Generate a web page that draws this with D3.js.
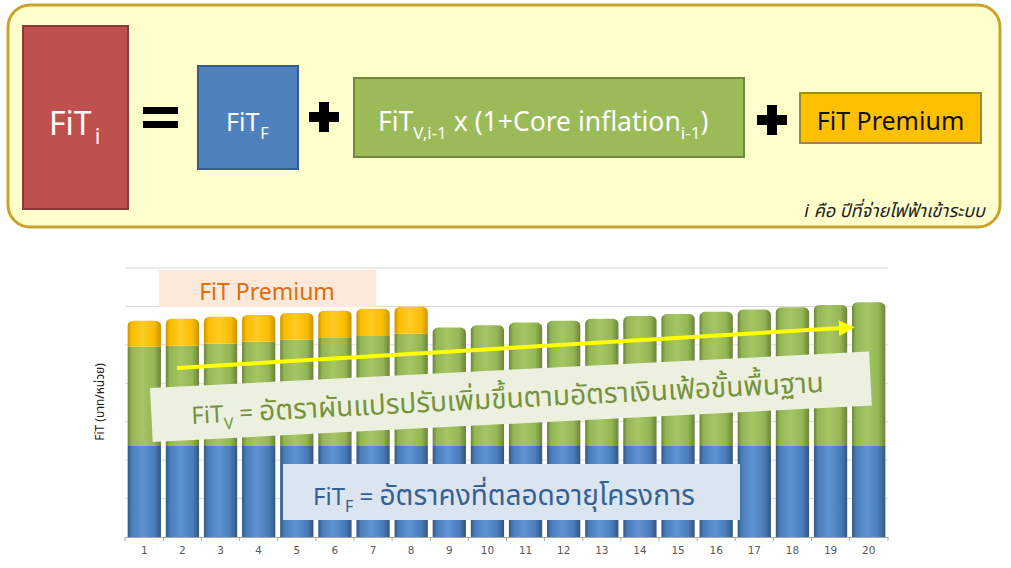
<!DOCTYPE html>
<html><head><meta charset="utf-8">
<script src="https://cdn.jsdelivr.net/npm/d3@7/dist/d3.min.js"></script>
<style>
body{margin:0;background:#fff;}
svg{display:block;font-family:"Noto Sans","Noto Sans Thai",Tahoma,sans-serif;}
</style></head>
<body>
<svg id="c" width="1011" height="568"></svg>
<script>
// ---------- data ----------
const categories = ["1","2","3","4","5","6","7","8","9","10","11","12","13","14","15","16","17","18","19","20"];
const fitF = [2.37,2.37,2.37,2.37,2.37,2.37,2.37,2.37,2.37,2.37,2.37,2.37,2.37,2.37,2.37,2.37,2.37,2.37,2.37,2.37];
const fitV = [2.58,2.61,2.66,2.71,2.76,2.81,2.86,2.92,3.08,3.14,3.21,3.26,3.31,3.38,3.43,3.49,3.55,3.61,3.67,3.74];
const fitP = [0.68,0.70,0.70,0.70,0.70,0.71,0.71,0.70,0,0,0,0,0,0,0,0,0,0,0,0];
const yTicks = [0,1,2,3,4,5,6,7];
const seriesKeys = ["F","V","P"];
const yLabel = "FiT (บาท/หน่วย)";

const svg = d3.select("#c");
const defs = svg.append("defs");

// cylinder gradients
function grad(id, edge, mid, light){
  const g = defs.append("linearGradient").attr("id", id).attr("x1","0").attr("x2","1").attr("y1","0").attr("y2","0");
  [[0,edge],[0.12,mid],[0.45,light],[0.8,mid],[1,edge]].forEach(([o,c])=>g.append("stop").attr("offset",o).attr("stop-color",c));
}
grad("gF","#33577f","#4a7cba","#5f93d3");
grad("gV","#6a8436","#94b555","#a6c664");
grad("gP","#c99400","#f9bc00","#ffcc26");
const fills = {F:"url(#gF)", V:"url(#gV)", P:"url(#gP)"};

// ---------- formula panel ----------
const panel = svg.append("g");
panel.append("rect").attr("x",8).attr("y",5).attr("width",992).attr("height",222).attr("rx",22)
  .attr("fill","#ffffcc").attr("stroke","#c9a42a").attr("stroke-width",3);

// FiT_i
panel.append("rect").attr("x",23).attr("y",26).attr("width",105).attr("height",183)
  .attr("fill","#c0504d").attr("stroke","#8c3a37").attr("stroke-width",2);
const t1 = panel.append("text").attr("x",49).attr("y",135).attr("fill","#fff").attr("font-size",32);
t1.append("tspan").text("FiT");
t1.append("tspan").attr("font-size",22).attr("dy",9).attr("dx",3).text("i");

// equals
panel.append("rect").attr("x",143).attr("y",107).attr("width",35).attr("height",7).attr("fill","#000");
panel.append("rect").attr("x",143).attr("y",121).attr("width",35).attr("height",7).attr("fill","#000");

// FiT_F
panel.append("rect").attr("x",198).attr("y",66).attr("width",100).attr("height",103)
  .attr("fill","#4f81bd").attr("stroke","#385d8a").attr("stroke-width",2);
const t2 = panel.append("text").attr("x",226).attr("y",131).attr("fill","#fff").attr("font-size",25);
t2.append("tspan").text("FiT");
t2.append("tspan").attr("font-size",16).attr("dy",8).attr("dx",1).text("F");

// plus signs
function plus(cx, cy){
  panel.append("rect").attr("x",cx-15).attr("y",cy-5).attr("width",30).attr("height",10).attr("fill","#000");
  panel.append("rect").attr("x",cx-5).attr("y",cy-15).attr("width",10).attr("height",30).attr("fill","#000");
}
plus(324,117);
plus(772,120);

// FiT_V box
panel.append("rect").attr("x",354).attr("y",78).attr("width",390).attr("height",79)
  .attr("fill","#9bbb59").attr("stroke","#71893f").attr("stroke-width",2);
const t3 = panel.append("text").attr("x",378).attr("y",131).attr("fill","#fff").attr("font-size",26.5);
t3.append("tspan").text("FiT");
t3.append("tspan").attr("font-size",17).attr("dy",8).text("V,i-1");
t3.append("tspan").attr("dy",-8).text(" x (1+Core inflation");
t3.append("tspan").attr("font-size",17).attr("dy",8).text("i-1");
t3.append("tspan").attr("dy",-8).text(")");

// Premium box
panel.append("rect").attr("x",800).attr("y",93).attr("width",181).attr("height",50)
  .attr("fill","#ffc000").attr("stroke","#9c8a3c").attr("stroke-width",2);
panel.append("text").attr("x",890.5).attr("y",130).attr("text-anchor","middle").attr("font-size",25)
  .attr("fill","#111").text("FiT Premium");

// footnote
panel.append("text").attr("x",985).attr("y",217).attr("text-anchor","end").attr("font-size",18)
  .attr("font-style","italic").attr("fill","#222").text("i คือ ปีที่จ่ายไฟฟ้าเข้าระบบ");

// ---------- chart ----------
const x = d3.scaleBand().domain(categories).range([125, 888]).paddingInner(0.127).paddingOuter(0.07);
const y = d3.scaleLinear().domain([0, 7]).range([537, 268]);

// gridlines
svg.append("g").selectAll("line").data(yTicks.filter(d=>d>0)).join("line")
  .attr("x1",125).attr("x2",888).attr("y1",d=>y(d)).attr("y2",d=>y(d))
  .attr("stroke","#d9d9d9").attr("stroke-width",1);

// stacked data
const table = categories.map((c,i)=>({cat:c, F:fitF[i], V:fitV[i], P:fitP[i]}));
const stack = d3.stack().keys(seriesKeys)(table);

function segPath(x0, w, yTop, yBot, round){
  if(!round) return `M${x0},${yBot}V${yTop}H${x0+w}V${yBot}Z`;
  const rx = 6, ry = 5;
  return `M${x0},${yBot}V${yTop+ry}A${rx},${ry} 0 0 1 ${x0+rx},${yTop}H${x0+w-rx}A${rx},${ry} 0 0 1 ${x0+w},${yTop+ry}V${yBot}Z`;
}

const bars = svg.append("g");
stack.forEach(layer=>{
  const key = layer.key;
  layer.forEach((d,i)=>{
    if(d[1]-d[0] <= 0) return;
    const isTop = seriesKeys.slice(seriesKeys.indexOf(key)+1).every(k=>table[i][k]===0);
    bars.append("path")
      .attr("d", segPath(x(table[i].cat), x.bandwidth(), y(d[1]), y(d[0]), isTop))
      .attr("fill", fills[key]);
  });
});

// x axis
const xAxis = d3.axisBottom(x).tickSize(0).tickPadding(10);
const gx = svg.append("g").attr("transform","translate(0,537)").call(xAxis);
gx.select(".domain").attr("stroke","#a6a6a6");
gx.selectAll("text").attr("font-family","DejaVu Sans").attr("font-size",10.5).attr("fill","#595959");
// tick marks at band boundaries
const bounds = categories.map(c=>x(c) - x.step()*x.paddingInner()/2).concat([888]);
bounds[0] = 125;
gx.selectAll("line.b").data(bounds).join("line").attr("class","b")
  .attr("x1",d=>d).attr("x2",d=>d).attr("y1",0).attr("y2",4).attr("stroke","#a6a6a6");

// y label
svg.append("text").attr("transform","translate(104,402) rotate(-90)").attr("text-anchor","middle")
  .attr("font-size",12).attr("fill","#222").text(yLabel);

// ---------- annotations ----------
// FiT Premium label
svg.append("rect").attr("x",159).attr("y",270).attr("width",217).attr("height",37).attr("fill","#fde9d9");
svg.append("text").attr("x",267).attr("y",300).attr("text-anchor","middle").attr("font-size",23)
  .attr("fill","#e46c0a").text("FiT Premium");

// yellow arrow
defs.append("marker").attr("id","ah").attr("viewBox","0 0 10 10").attr("refX",2).attr("refY",5)
  .attr("markerWidth",4).attr("markerHeight",4).attr("orient","auto")
  .append("path").attr("d","M0,0L10,5L0,10Z").attr("fill","#ffff00");
svg.append("line").attr("x1",177).attr("y1",368).attr("x2",842).attr("y2",328)
  .attr("stroke","#ffff00").attr("stroke-width",4).attr("marker-end","url(#ah)");

// FiT_V banner (rotated)
const gv = svg.append("g").attr("transform","translate(150,388) rotate(-2.9)");
gv.append("rect").attr("x",0).attr("y",0).attr("width",720).attr("height",54).attr("fill","#ebf1de");
const tv = gv.append("text").attr("x",40).attr("y",38).attr("font-size",24).attr("fill","#76923c");
tv.append("tspan").text("FiT");
tv.append("tspan").attr("font-size",16).attr("dy",7).text("V");
tv.append("tspan").attr("dy",-7).text(" = ");
tv.append("tspan").attr("font-size",28).text("อัตราผันแปรปรับเพิ่มขึ้นตามอัตราเงินเฟ้อขั้นพื้นฐาน");

// FiT_F banner
svg.append("rect").attr("x",283).attr("y",464).attr("width",457).attr("height",56).attr("fill","#dbe5f1");
const tf = svg.append("text").attr("x",313).attr("y",505).attr("font-size",24).attr("fill","#366092");
tf.append("tspan").text("FiT");
tf.append("tspan").attr("font-size",16).attr("dy",7).text("F");
tf.append("tspan").attr("dy",-7).text(" = ");
tf.append("tspan").attr("font-size",28).text("อัตราคงที่ตลอดอายุโครงการ");
</script>
</body></html>
